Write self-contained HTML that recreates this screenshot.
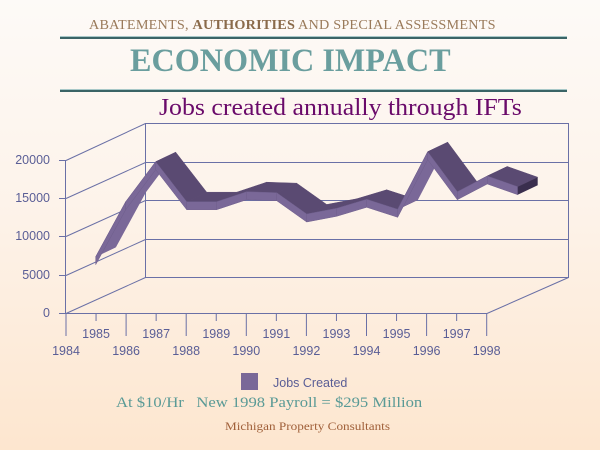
<!DOCTYPE html>
<html><head><style>
html,body{margin:0;padding:0}
body{width:600px;height:450px;overflow:hidden;background:linear-gradient(#fdfaf7 0%,#fdf3ea 45%,#fde6cf 100%);position:relative;font-family:"Liberation Serif",serif}
.t{position:absolute;white-space:nowrap;transform-origin:0 0}
</style></head><body>
<div class="t" style="left:89px;top:17px;font-size:13.5px;color:#9a7a5a;letter-spacing:0.2px;transform:scaleX(1.052)">ABATEMENTS, <b style="color:#8a6a4a">AUTHORITIES</b> AND SPECIAL ASSESSMENTS</div>
<div style="position:absolute;left:60px;top:36px;width:507px;height:1px;background:#a8c8c8"></div>
<div style="position:absolute;left:60px;top:37px;width:507px;height:2px;background:#3a6466"></div>
<div class="t" style="left:130px;top:43px;font-size:33px;font-weight:bold;color:#6a9e9e;transform:scaleX(0.976)">ECONOMIC IMPACT</div>
<div style="position:absolute;left:60px;top:89px;width:507px;height:1px;background:#a8c8c8"></div>
<div style="position:absolute;left:60px;top:90px;width:507px;height:2px;background:#3a6466"></div>
<div class="t" style="left:159px;top:94px;font-size:24.5px;color:#6a0a6a;transform:scaleX(1.055)">Jobs created annually through IFTs</div>
<svg width="600" height="450" style="position:absolute;left:0;top:0" font-family="Liberation Sans, sans-serif">
<g stroke="#6a70a6" stroke-width="1" fill="none">
<rect x="145.5" y="123.5" width="423" height="154"/>
<line x1="145.5" y1="162.5" x2="568.5" y2="162.5"/>
<line x1="145.5" y1="200.5" x2="568.5" y2="200.5"/>
<line x1="145.5" y1="239.5" x2="568.5" y2="239.5"/>
<line x1="66" y1="160.5" x2="145.5" y2="123.5"/>
<line x1="66" y1="198.5" x2="145.5" y2="162.5"/>
<line x1="66" y1="236.5" x2="145.5" y2="200.5"/>
<line x1="66" y1="275.5" x2="145.5" y2="239.5"/>
<line x1="66" y1="313.5" x2="145.5" y2="277.5"/>
<line x1="487" y1="313.5" x2="568.5" y2="277.5"/>
<line x1="65.5" y1="160" x2="65.5" y2="313"/>
<line x1="66" y1="313.5" x2="487" y2="313.5"/>
<line x1="59" y1="160.5" x2="66" y2="160.5"/>
<line x1="59" y1="198.5" x2="66" y2="198.5"/>
<line x1="59" y1="236.5" x2="66" y2="236.5"/>
<line x1="59" y1="275.5" x2="66" y2="275.5"/>
<line x1="59" y1="313.5" x2="66" y2="313.5"/>
</g>
<g id="ticks" stroke="#6a70a6"></g>
<g id="rib"></g>
<g fill="#5a5e96" font-size="12.5" text-anchor="end">
<text x="50" y="164">20000</text><text x="50" y="202">15000</text><text x="50" y="240">10000</text><text x="50" y="279">5000</text><text x="50" y="317">0</text>
</g>
<g id="yl" fill="#5a5e96" font-size="12.5" text-anchor="middle"></g>
<rect x="241" y="373" width="17" height="17" fill="#7a6898"/>
<text x="273" y="387" fill="#5a5e96" font-size="12.5">Jobs Created</text>
</svg>
<div class="t" style="left:116px;top:395px;font-size:15px;color:#5a9a96;transform:scaleX(1.108)">At $10/Hr&nbsp;&nbsp; New 1998 Payroll = $295 Million</div>
<div class="t" style="left:225px;top:419px;font-size:12px;color:#a0603a;transform:scaleX(1.1)">Michigan Property Consultants</div>
<script>
var ns="http://www.w3.org/2000/svg";
function el(p,t,a){var e=document.createElementNS(ns,t);for(var k in a)e.setAttribute(k,a[k]);p.appendChild(e);return e;}
var tk=document.getElementById('ticks'),yl=document.getElementById('yl');
for(var i=0;i<15;i++){var x=66+i*30.05,ev=i%2==0;
el(tk,'line',{x1:x,y1:313,x2:x,y2:ev?336:321});
var t=el(yl,'text',{x:x,y:ev?355:338});t.textContent=1984+i;}
var P=[[95.7,256.7],[125.7,201.7],[155.7,161.7],[186.7,201.7],[216.7,201.7],[246.7,191.7],[276.7,192.7],[306.7,214],[336.7,208.3],[366.7,199.3],[397.7,209.3],[427.7,151.7],[457.3,191.7],[487.3,176],[517.7,186.7]];
var dx=20,dy=-9.5,h=8,r=document.getElementById('rib');
function pts(a){return a.map(function(p){return p[0]+','+p[1]}).join(' ');}
for(var i=0;i<P.length-1;i++){var a=P[i],b=P[i+1],up=(b[1]-a[1])<-20;
el(r,'polygon',{points:pts([a,b,[b[0]+dx,b[1]+dy],[a[0]+dx,a[1]+dy]]),fill:up?'#7a6898':'#5a4a72',stroke:up?'#7a6898':'#5a4a72','stroke-width':0.5});}
for(var i=0;i<P.length-1;i++){var a=P[i],b=P[i+1];
el(r,'polygon',{points:pts([a,b,[b[0],b[1]+h],[a[0],a[1]+h]]),fill:'#7a6898',stroke:'#6e5e8c','stroke-width':0.5});}
var L=P[P.length-1];
el(r,'polygon',{points:pts([L,[L[0]+dx,L[1]+dy],[L[0]+dx,L[1]+dy+h],[L[0],L[1]+h]]),fill:'#3a2e4e'});
</script>
</body></html>
